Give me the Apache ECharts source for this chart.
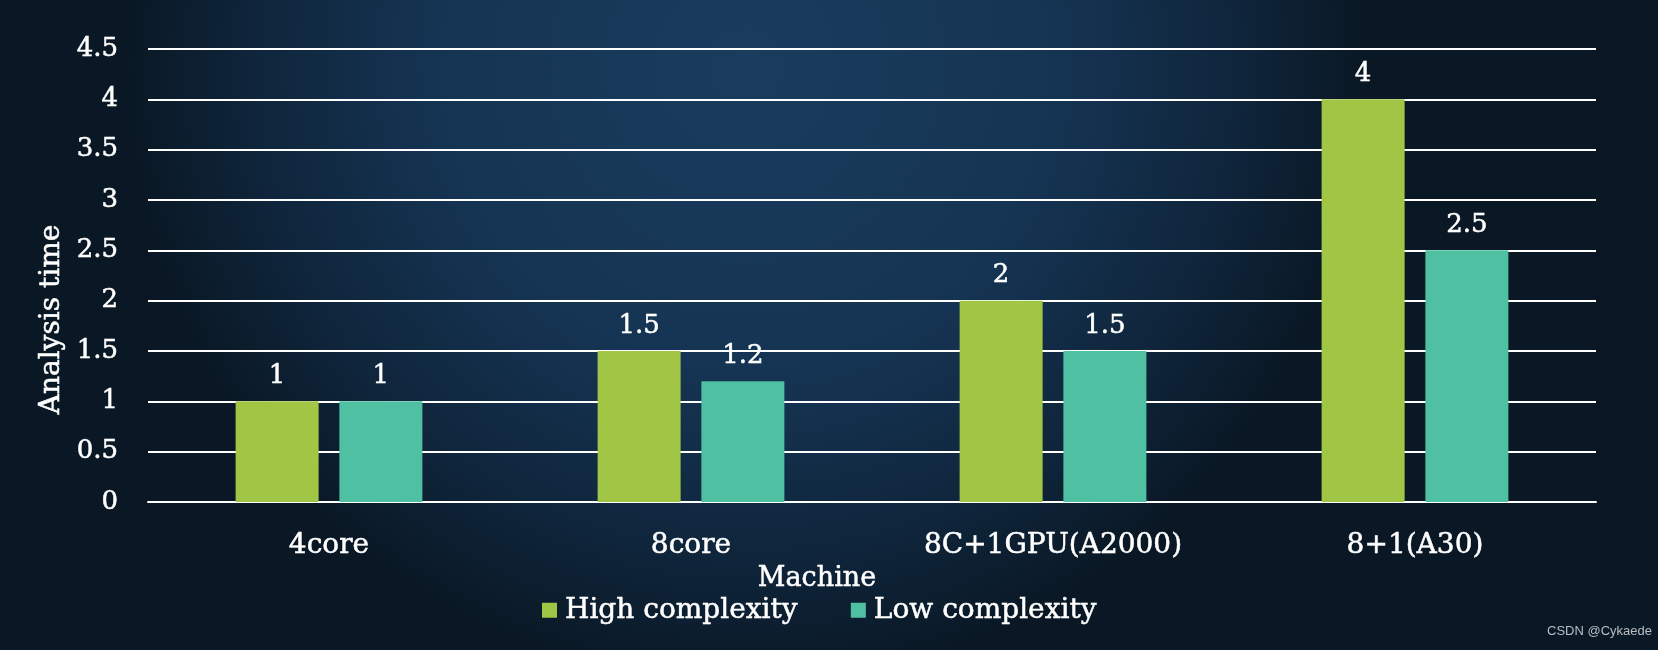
<!DOCTYPE html>
<html>
<head>
<meta charset="utf-8">
<script src="https://cdn.jsdelivr.net/npm/echarts@6/dist/echarts.min.js"></script>
<style>
html,body{margin:0;padding:0;background:#0c1b2b;}
#chart{width:1658px;height:650px;}
</style>
</head>
<body>
<div id="chart"></div>
<script>
var categories = ['4core', '8core', '8C+1GPU(A2000)', '8+1(A30)'];
var highComplexity = [1, 1.5, 2, 4];
var lowComplexity = [1, 1.2, 1.5, 2.5];
var seriesNames = ['High complexity', 'Low complexity'];
var xAxisName = 'Machine';
var yAxisName = 'Analysis time';
var watermark = 'CSDN @Cykaede';

var FONT = '"DejaVu Serif", "Liberation Serif", serif';
function ts(size, extra) {
  var o = {color: '#ffffff', fontFamily: FONT, fontSize: size, textBorderColor: '#ffffff', textBorderWidth: 0.5};
  for (var k in extra) o[k] = extra[k];
  return o;
}
var chart = echarts.init(document.getElementById('chart'));
chart.setOption({
  animation: false,
  graphic: [
    {
      type: 'rect', z: -100, silent: true,
      shape: {x: 0, y: 0, width: 1658, height: 650},
      style: {
        fill: new echarts.graphic.RadialGradient(0.45, 0.1, 0.95, [
          {offset: 0, color: '#1b3c5e'},
          {offset: 0.5, color: '#153453'},
          {offset: 0.8, color: '#0f253b'},
          {offset: 1, color: '#0a1825'}
        ])
      }
    },
    {
      type: 'text', left: 1547, top: 625, silent: true,
      style: {text: watermark, fill: '#b9bec4', font: '13px "Liberation Sans", Arial, sans-serif'}
    }
  ],
  grid: {left: 148, right: 62, top: 49, bottom: 148},
  legend: {
    data: seriesNames,
    left: 537, top: 591,
    icon: 'rect', itemWidth: 15, itemHeight: 15, itemGap: 53,
    textStyle: ts(28, {padding: [0, 0, 0, 3]})
  },
  xAxis: {
    type: 'category',
    data: categories,
    name: xAxisName,
    nameLocation: 'middle',
    nameGap: 56,
    nameTextStyle: ts(27, {padding: [0, 110, 0, 0]}),
    axisLine: {show: true, lineStyle: {color: '#ffffff', width: 2}},
    axisTick: {show: false},
    axisLabel: ts(28, {margin: 30})
  },
  yAxis: {
    type: 'value',
    min: 0, max: 4.5, interval: 0.5,
    name: yAxisName,
    nameLocation: 'middle',
    nameGap: 80,
    nameRotate: 90,
    nameTextStyle: ts(28, {padding: [0, 88, 0, 0]}),
    axisLine: {show: false},
    axisTick: {show: false},
    axisLabel: ts(26, {margin: 30}),
    splitLine: {lineStyle: {color: '#ffffff', width: 2}}
  },
  series: [
    {
      name: seriesNames[0], type: 'bar', data: highComplexity,
      barWidth: 83, barGap: '25%',
      itemStyle: {color: '#a1c646'},
      label: ts(26, {show: true, position: 'top', distance: 12})
    },
    {
      name: seriesNames[1], type: 'bar', data: lowComplexity,
      barWidth: 83, barGap: '25%',
      itemStyle: {color: '#50c0a3'},
      label: ts(26, {show: true, position: 'top', distance: 12})
    }
  ]
});
</script>
</body>
</html>
